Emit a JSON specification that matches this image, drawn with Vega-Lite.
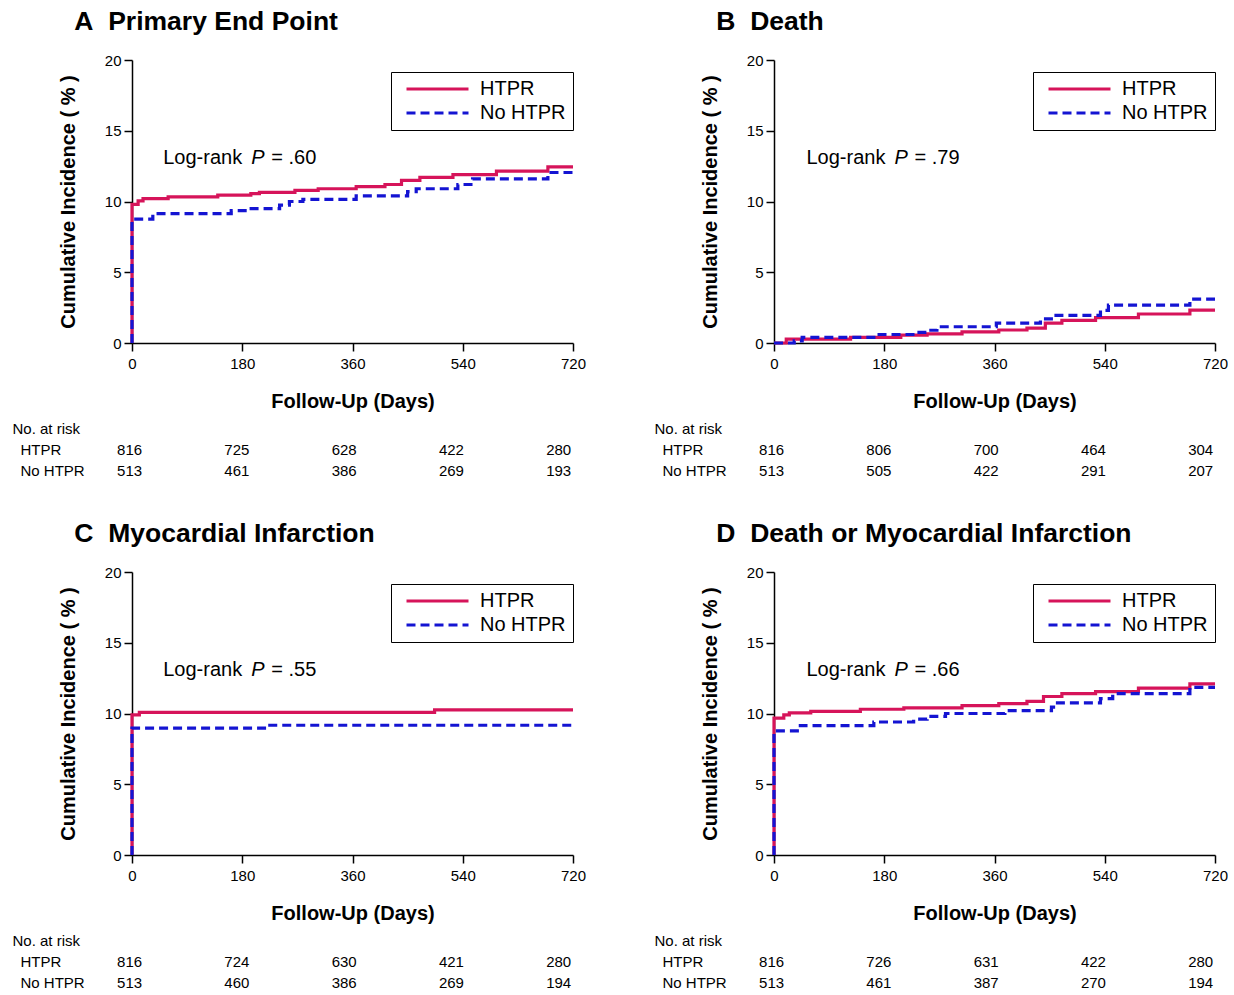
{
  "$schema": "https://vega.github.io/schema/vega-lite/v6.json",
  "padding": {"left": 12, "top": 8, "right": 0, "bottom": 0},
  "config": {
    "font": "Liberation Sans",
    "view": {"stroke": null},
    "axis": {"grid": false, "domainColor": "#000", "tickColor": "#000", "labelColor": "#000", "titleColor": "#000", "domainWidth": 1.5, "tickWidth": 1.5, "labelFontSize": 15, "titleFontSize": 20, "titleFontWeight": "bold", "tickSize": 8, "labelPadding": 3, "labelFlush": false},
    "axisX": {"labelPadding": 5},
    "legend": {"orient": "none", "legendX": 259, "legendY": 12, "strokeColor": "#000", "padding": 7, "labelFontSize": 20, "labelColor": "#000", "symbolType": "stroke", "symbolSize": 3844, "symbolStrokeWidth": 3, "labelOffset": 10, "rowPadding": 4, "symbolOffset": 7, "labelLimit": 200, "clipHeight": 20},
    "title": {"anchor": "start", "fontSize": 26.5, "fontWeight": "bold", "color": "#000", "dx": 16, "offset": 18},
    "text": {"color": "#000"}
  },
  "datasets": {
    "km": [
      {"panel": "A", "group": "HTPR", "day": 0, "pct": 0},
      {"panel": "A", "group": "HTPR", "day": 0, "pct": 9.8},
      {"panel": "A", "group": "HTPR", "day": 10, "pct": 10.05},
      {"panel": "A", "group": "HTPR", "day": 18, "pct": 10.2},
      {"panel": "A", "group": "HTPR", "day": 59, "pct": 10.33},
      {"panel": "A", "group": "HTPR", "day": 140, "pct": 10.45},
      {"panel": "A", "group": "HTPR", "day": 194, "pct": 10.55},
      {"panel": "A", "group": "HTPR", "day": 208, "pct": 10.65},
      {"panel": "A", "group": "HTPR", "day": 266, "pct": 10.78},
      {"panel": "A", "group": "HTPR", "day": 304, "pct": 10.9},
      {"panel": "A", "group": "HTPR", "day": 366, "pct": 11.05},
      {"panel": "A", "group": "HTPR", "day": 413, "pct": 11.2},
      {"panel": "A", "group": "HTPR", "day": 440, "pct": 11.5},
      {"panel": "A", "group": "HTPR", "day": 470, "pct": 11.7},
      {"panel": "A", "group": "HTPR", "day": 524, "pct": 11.9},
      {"panel": "A", "group": "HTPR", "day": 595, "pct": 12.15},
      {"panel": "A", "group": "HTPR", "day": 679, "pct": 12.45},
      {"panel": "A", "group": "HTPR", "day": 720, "pct": 12.45},
      {"panel": "A", "group": "No HTPR", "day": 0, "pct": 0},
      {"panel": "A", "group": "No HTPR", "day": 0, "pct": 8.75},
      {"panel": "A", "group": "No HTPR", "day": 34, "pct": 9.15},
      {"panel": "A", "group": "No HTPR", "day": 162, "pct": 9.35},
      {"panel": "A", "group": "No HTPR", "day": 190, "pct": 9.5},
      {"panel": "A", "group": "No HTPR", "day": 241, "pct": 9.75},
      {"panel": "A", "group": "No HTPR", "day": 257, "pct": 10.0},
      {"panel": "A", "group": "No HTPR", "day": 279, "pct": 10.15},
      {"panel": "A", "group": "No HTPR", "day": 366, "pct": 10.4},
      {"panel": "A", "group": "No HTPR", "day": 450, "pct": 10.7},
      {"panel": "A", "group": "No HTPR", "day": 464, "pct": 10.9},
      {"panel": "A", "group": "No HTPR", "day": 532, "pct": 11.2},
      {"panel": "A", "group": "No HTPR", "day": 556, "pct": 11.6},
      {"panel": "A", "group": "No HTPR", "day": 679, "pct": 12.05},
      {"panel": "A", "group": "No HTPR", "day": 720, "pct": 12.05},
      {"panel": "B", "group": "HTPR", "day": 0, "pct": 0},
      {"panel": "B", "group": "HTPR", "day": 20, "pct": 0.28},
      {"panel": "B", "group": "HTPR", "day": 125, "pct": 0.4},
      {"panel": "B", "group": "HTPR", "day": 207, "pct": 0.55},
      {"panel": "B", "group": "HTPR", "day": 250, "pct": 0.65},
      {"panel": "B", "group": "HTPR", "day": 307, "pct": 0.78},
      {"panel": "B", "group": "HTPR", "day": 367, "pct": 0.92},
      {"panel": "B", "group": "HTPR", "day": 413, "pct": 1.05},
      {"panel": "B", "group": "HTPR", "day": 443, "pct": 1.4},
      {"panel": "B", "group": "HTPR", "day": 470, "pct": 1.6},
      {"panel": "B", "group": "HTPR", "day": 525, "pct": 1.8},
      {"panel": "B", "group": "HTPR", "day": 595, "pct": 2.05},
      {"panel": "B", "group": "HTPR", "day": 679, "pct": 2.33},
      {"panel": "B", "group": "HTPR", "day": 720, "pct": 2.33},
      {"panel": "B", "group": "No HTPR", "day": 0, "pct": 0},
      {"panel": "B", "group": "No HTPR", "day": 33, "pct": 0.15},
      {"panel": "B", "group": "No HTPR", "day": 46, "pct": 0.4},
      {"panel": "B", "group": "No HTPR", "day": 163, "pct": 0.6},
      {"panel": "B", "group": "No HTPR", "day": 231, "pct": 0.75},
      {"panel": "B", "group": "No HTPR", "day": 250, "pct": 0.9},
      {"panel": "B", "group": "No HTPR", "day": 266, "pct": 1.15},
      {"panel": "B", "group": "No HTPR", "day": 363, "pct": 1.4},
      {"panel": "B", "group": "No HTPR", "day": 435, "pct": 1.7},
      {"panel": "B", "group": "No HTPR", "day": 457, "pct": 1.95},
      {"panel": "B", "group": "No HTPR", "day": 533, "pct": 2.3},
      {"panel": "B", "group": "No HTPR", "day": 546, "pct": 2.68},
      {"panel": "B", "group": "No HTPR", "day": 679, "pct": 3.1},
      {"panel": "B", "group": "No HTPR", "day": 720, "pct": 3.1},
      {"panel": "C", "group": "HTPR", "day": 0, "pct": 0},
      {"panel": "C", "group": "HTPR", "day": 0, "pct": 9.9},
      {"panel": "C", "group": "HTPR", "day": 12, "pct": 10.08},
      {"panel": "C", "group": "HTPR", "day": 494, "pct": 10.25},
      {"panel": "C", "group": "HTPR", "day": 720, "pct": 10.25},
      {"panel": "C", "group": "No HTPR", "day": 0, "pct": 0},
      {"panel": "C", "group": "No HTPR", "day": 0, "pct": 8.97},
      {"panel": "C", "group": "No HTPR", "day": 225, "pct": 9.17},
      {"panel": "C", "group": "No HTPR", "day": 720, "pct": 9.17},
      {"panel": "D", "group": "HTPR", "day": 0, "pct": 0},
      {"panel": "D", "group": "HTPR", "day": 0, "pct": 9.67},
      {"panel": "D", "group": "HTPR", "day": 16, "pct": 9.9},
      {"panel": "D", "group": "HTPR", "day": 25, "pct": 10.05},
      {"panel": "D", "group": "HTPR", "day": 60, "pct": 10.15},
      {"panel": "D", "group": "HTPR", "day": 141, "pct": 10.3},
      {"panel": "D", "group": "HTPR", "day": 212, "pct": 10.4},
      {"panel": "D", "group": "HTPR", "day": 307, "pct": 10.55},
      {"panel": "D", "group": "HTPR", "day": 367, "pct": 10.7},
      {"panel": "D", "group": "HTPR", "day": 413, "pct": 10.85},
      {"panel": "D", "group": "HTPR", "day": 440, "pct": 11.2},
      {"panel": "D", "group": "HTPR", "day": 470, "pct": 11.4},
      {"panel": "D", "group": "HTPR", "day": 525, "pct": 11.55},
      {"panel": "D", "group": "HTPR", "day": 595, "pct": 11.8},
      {"panel": "D", "group": "HTPR", "day": 679, "pct": 12.1},
      {"panel": "D", "group": "HTPR", "day": 720, "pct": 12.1},
      {"panel": "D", "group": "No HTPR", "day": 0, "pct": 0},
      {"panel": "D", "group": "No HTPR", "day": 0, "pct": 8.77},
      {"panel": "D", "group": "No HTPR", "day": 43, "pct": 9.15},
      {"panel": "D", "group": "No HTPR", "day": 163, "pct": 9.4},
      {"panel": "D", "group": "No HTPR", "day": 228, "pct": 9.6},
      {"panel": "D", "group": "No HTPR", "day": 250, "pct": 9.8},
      {"panel": "D", "group": "No HTPR", "day": 280, "pct": 10.0},
      {"panel": "D", "group": "No HTPR", "day": 377, "pct": 10.2},
      {"panel": "D", "group": "No HTPR", "day": 453, "pct": 10.45},
      {"panel": "D", "group": "No HTPR", "day": 460, "pct": 10.75},
      {"panel": "D", "group": "No HTPR", "day": 533, "pct": 11.05},
      {"panel": "D", "group": "No HTPR", "day": 553, "pct": 11.4},
      {"panel": "D", "group": "No HTPR", "day": 679, "pct": 11.85},
      {"panel": "D", "group": "No HTPR", "day": 720, "pct": 11.85}
    ],
    "risk": [
      {"panel": "A", "row": "HTPR", "day": 0, "n": 816},
      {"panel": "A", "row": "HTPR", "day": 180, "n": 725},
      {"panel": "A", "row": "HTPR", "day": 360, "n": 628},
      {"panel": "A", "row": "HTPR", "day": 540, "n": 422},
      {"panel": "A", "row": "HTPR", "day": 720, "n": 280},
      {"panel": "A", "row": "No HTPR", "day": 0, "n": 513},
      {"panel": "A", "row": "No HTPR", "day": 180, "n": 461},
      {"panel": "A", "row": "No HTPR", "day": 360, "n": 386},
      {"panel": "A", "row": "No HTPR", "day": 540, "n": 269},
      {"panel": "A", "row": "No HTPR", "day": 720, "n": 193},
      {"panel": "B", "row": "HTPR", "day": 0, "n": 816},
      {"panel": "B", "row": "HTPR", "day": 180, "n": 806},
      {"panel": "B", "row": "HTPR", "day": 360, "n": 700},
      {"panel": "B", "row": "HTPR", "day": 540, "n": 464},
      {"panel": "B", "row": "HTPR", "day": 720, "n": 304},
      {"panel": "B", "row": "No HTPR", "day": 0, "n": 513},
      {"panel": "B", "row": "No HTPR", "day": 180, "n": 505},
      {"panel": "B", "row": "No HTPR", "day": 360, "n": 422},
      {"panel": "B", "row": "No HTPR", "day": 540, "n": 291},
      {"panel": "B", "row": "No HTPR", "day": 720, "n": 207},
      {"panel": "C", "row": "HTPR", "day": 0, "n": 816},
      {"panel": "C", "row": "HTPR", "day": 180, "n": 724},
      {"panel": "C", "row": "HTPR", "day": 360, "n": 630},
      {"panel": "C", "row": "HTPR", "day": 540, "n": 421},
      {"panel": "C", "row": "HTPR", "day": 720, "n": 280},
      {"panel": "C", "row": "No HTPR", "day": 0, "n": 513},
      {"panel": "C", "row": "No HTPR", "day": 180, "n": 460},
      {"panel": "C", "row": "No HTPR", "day": 360, "n": 386},
      {"panel": "C", "row": "No HTPR", "day": 540, "n": 269},
      {"panel": "C", "row": "No HTPR", "day": 720, "n": 194},
      {"panel": "D", "row": "HTPR", "day": 0, "n": 816},
      {"panel": "D", "row": "HTPR", "day": 180, "n": 726},
      {"panel": "D", "row": "HTPR", "day": 360, "n": 631},
      {"panel": "D", "row": "HTPR", "day": 540, "n": 422},
      {"panel": "D", "row": "HTPR", "day": 720, "n": 280},
      {"panel": "D", "row": "No HTPR", "day": 0, "n": 513},
      {"panel": "D", "row": "No HTPR", "day": 180, "n": 461},
      {"panel": "D", "row": "No HTPR", "day": 360, "n": 387},
      {"panel": "D", "row": "No HTPR", "day": 540, "n": 270},
      {"panel": "D", "row": "No HTPR", "day": 720, "n": 194}
    ],
    "notes": [
      {"panel": "A", "p": "= .60"},
      {"panel": "B", "p": "= .79"},
      {"panel": "C", "p": "= .55"},
      {"panel": "D", "p": "= .66"}
    ]
  },
  "resolve": {"scale": {"color": "independent", "strokeDash": "independent"}, "legend": {"color": "independent", "strokeDash": "independent"}},
  "spacing": 39,
  "vconcat": [
    {
      "spacing": 68,
      "resolve": {"scale": {"color": "independent", "strokeDash": "independent"}, "legend": {"color": "independent", "strokeDash": "independent"}},
      "hconcat": [
        {
          "spacing": 7,
          "resolve": {"scale": {"color": "independent", "strokeDash": "independent"}, "legend": {"color": "independent", "strokeDash": "independent"}},
          "vconcat": [
            {
              "width": 441, "height": 283,
              "title": {"text": "A\u00a0\u00a0Primary End Point"},
              "layer": [
                {
                  "data": {"name": "km"},
                  "transform": [{"filter": "datum.panel == 'A'"}],
                  "mark": {"type": "line", "interpolate": "step-after", "strokeWidth": 3.2},
                  "encoding": {
                    "x": {"field": "day", "type": "quantitative", "scale": {"domain": [0, 720], "nice": false}, "axis": {"values": [0, 180, 360, 540, 720], "title": "Follow-Up (Days)", "titlePadding": 20}},
                    "y": {"field": "pct", "type": "quantitative", "scale": {"domain": [0, 20], "nice": false}, "axis": {"values": [0, 5, 10, 15, 20], "title": "Cumulative Incidence ( % )", "titlePadding": 26}},
                    "color": {"field": "group", "type": "nominal", "scale": {"domain": ["HTPR", "No HTPR"], "range": ["#d6145a", "#1414d2"]}, "legend": {"title": null}},
                    "strokeDash": {"field": "group", "type": "nominal", "scale": {"domain": ["HTPR", "No HTPR"], "range": [[1, 0], [9, 5]]}, "legend": {"title": null}}
                  }
                },
                {
                  "data": {"name": "notes"},
                  "transform": [{"filter": "datum.panel == 'A'"}],
                  "mark": {"type": "text", "align": "left", "baseline": "middle", "fontSize": 20},
                  "encoding": {"x": {"datum": 51}, "y": {"datum": 13.05}, "text": {"value": "Log-rank"}}
                },
                {
                  "data": {"name": "notes"},
                  "transform": [{"filter": "datum.panel == 'A'"}],
                  "mark": {"type": "text", "align": "left", "baseline": "middle", "fontSize": 20, "fontStyle": "italic", "dx": 88},
                  "encoding": {"x": {"datum": 51}, "y": {"datum": 13.05}, "text": {"value": "P"}}
                },
                {
                  "data": {"name": "notes"},
                  "transform": [{"filter": "datum.panel == 'A'"}],
                  "mark": {"type": "text", "align": "left", "baseline": "middle", "fontSize": 20, "dx": 108},
                  "encoding": {"x": {"datum": 51}, "y": {"datum": 13.05}, "text": {"field": "p"}}
                }
              ]
            },
            {
              "width": 441, "height": 63,
              "data": {"name": "risk"},
              "transform": [{"filter": "datum.panel == 'A'"}],
              "mark": {"type": "text", "fontSize": 15, "baseline": "middle"},
              "encoding": {
                "x": {"field": "day", "type": "quantitative", "scale": {"domain": [4, 744], "nice": false}, "axis": null},
                "y": {"field": "row", "type": "nominal", "scale": {"domain": ["No. at risk", "HTPR", "No HTPR"], "padding": 0.5}, "axis": {"title": null, "domain": false, "ticks": false, "labelAlign": "left", "labelFontSize": 15, "labelPadding": {"condition": {"test": "datum.value == 'No. at risk'", "value": 120}, "value": 112}}},
                "text": {"field": "n", "type": "quantitative"}
              }
            }
          ]
        },
        {
          "spacing": 7,
          "resolve": {"scale": {"color": "independent", "strokeDash": "independent"}, "legend": {"color": "independent", "strokeDash": "independent"}},
          "vconcat": [
            {
              "width": 441, "height": 283,
              "title": {"text": "B\u00a0\u00a0Death"},
              "layer": [
                {
                  "data": {"name": "km"},
                  "transform": [{"filter": "datum.panel == 'B'"}],
                  "mark": {"type": "line", "interpolate": "step-after", "strokeWidth": 3.2},
                  "encoding": {
                    "x": {"field": "day", "type": "quantitative", "scale": {"domain": [0, 720], "nice": false}, "axis": {"values": [0, 180, 360, 540, 720], "title": "Follow-Up (Days)", "titlePadding": 20}},
                    "y": {"field": "pct", "type": "quantitative", "scale": {"domain": [0, 20], "nice": false}, "axis": {"values": [0, 5, 10, 15, 20], "title": "Cumulative Incidence ( % )", "titlePadding": 26}},
                    "color": {"field": "group", "type": "nominal", "scale": {"domain": ["HTPR", "No HTPR"], "range": ["#d6145a", "#1414d2"]}, "legend": {"title": null}},
                    "strokeDash": {"field": "group", "type": "nominal", "scale": {"domain": ["HTPR", "No HTPR"], "range": [[1, 0], [9, 5]]}, "legend": {"title": null}}
                  }
                },
                {
                  "data": {"name": "notes"},
                  "transform": [{"filter": "datum.panel == 'B'"}],
                  "mark": {"type": "text", "align": "left", "baseline": "middle", "fontSize": 20},
                  "encoding": {"x": {"datum": 53}, "y": {"datum": 13.05}, "text": {"value": "Log-rank"}}
                },
                {
                  "data": {"name": "notes"},
                  "transform": [{"filter": "datum.panel == 'B'"}],
                  "mark": {"type": "text", "align": "left", "baseline": "middle", "fontSize": 20, "fontStyle": "italic", "dx": 88},
                  "encoding": {"x": {"datum": 53}, "y": {"datum": 13.05}, "text": {"value": "P"}}
                },
                {
                  "data": {"name": "notes"},
                  "transform": [{"filter": "datum.panel == 'B'"}],
                  "mark": {"type": "text", "align": "left", "baseline": "middle", "fontSize": 20, "dx": 108},
                  "encoding": {"x": {"datum": 53}, "y": {"datum": 13.05}, "text": {"field": "p"}}
                }
              ]
            },
            {
              "width": 441, "height": 63,
              "data": {"name": "risk"},
              "transform": [{"filter": "datum.panel == 'B'"}],
              "mark": {"type": "text", "fontSize": 15, "baseline": "middle"},
              "encoding": {
                "x": {"field": "day", "type": "quantitative", "scale": {"domain": [4, 744], "nice": false}, "axis": null},
                "y": {"field": "row", "type": "nominal", "scale": {"domain": ["No. at risk", "HTPR", "No HTPR"], "padding": 0.5}, "axis": {"title": null, "domain": false, "ticks": false, "labelAlign": "left", "labelFontSize": 15, "labelPadding": {"condition": {"test": "datum.value == 'No. at risk'", "value": 120}, "value": 112}}},
                "text": {"field": "n", "type": "quantitative"}
              }
            }
          ]
        }
      ]
    },
    {
      "spacing": 68,
      "resolve": {"scale": {"color": "independent", "strokeDash": "independent"}, "legend": {"color": "independent", "strokeDash": "independent"}},
      "hconcat": [
        {
          "spacing": 7,
          "resolve": {"scale": {"color": "independent", "strokeDash": "independent"}, "legend": {"color": "independent", "strokeDash": "independent"}},
          "vconcat": [
            {
              "width": 441, "height": 283,
              "title": {"text": "C\u00a0\u00a0Myocardial Infarction"},
              "layer": [
                {
                  "data": {"name": "km"},
                  "transform": [{"filter": "datum.panel == 'C'"}],
                  "mark": {"type": "line", "interpolate": "step-after", "strokeWidth": 3.2},
                  "encoding": {
                    "x": {"field": "day", "type": "quantitative", "scale": {"domain": [0, 720], "nice": false}, "axis": {"values": [0, 180, 360, 540, 720], "title": "Follow-Up (Days)", "titlePadding": 20}},
                    "y": {"field": "pct", "type": "quantitative", "scale": {"domain": [0, 20], "nice": false}, "axis": {"values": [0, 5, 10, 15, 20], "title": "Cumulative Incidence ( % )", "titlePadding": 26}},
                    "color": {"field": "group", "type": "nominal", "scale": {"domain": ["HTPR", "No HTPR"], "range": ["#d6145a", "#1414d2"]}, "legend": {"title": null}},
                    "strokeDash": {"field": "group", "type": "nominal", "scale": {"domain": ["HTPR", "No HTPR"], "range": [[1, 0], [9, 5]]}, "legend": {"title": null}}
                  }
                },
                {
                  "data": {"name": "notes"},
                  "transform": [{"filter": "datum.panel == 'C'"}],
                  "mark": {"type": "text", "align": "left", "baseline": "middle", "fontSize": 20},
                  "encoding": {"x": {"datum": 51}, "y": {"datum": 13.05}, "text": {"value": "Log-rank"}}
                },
                {
                  "data": {"name": "notes"},
                  "transform": [{"filter": "datum.panel == 'C'"}],
                  "mark": {"type": "text", "align": "left", "baseline": "middle", "fontSize": 20, "fontStyle": "italic", "dx": 88},
                  "encoding": {"x": {"datum": 51}, "y": {"datum": 13.05}, "text": {"value": "P"}}
                },
                {
                  "data": {"name": "notes"},
                  "transform": [{"filter": "datum.panel == 'C'"}],
                  "mark": {"type": "text", "align": "left", "baseline": "middle", "fontSize": 20, "dx": 108},
                  "encoding": {"x": {"datum": 51}, "y": {"datum": 13.05}, "text": {"field": "p"}}
                }
              ]
            },
            {
              "width": 441, "height": 63,
              "data": {"name": "risk"},
              "transform": [{"filter": "datum.panel == 'C'"}],
              "mark": {"type": "text", "fontSize": 15, "baseline": "middle"},
              "encoding": {
                "x": {"field": "day", "type": "quantitative", "scale": {"domain": [4, 744], "nice": false}, "axis": null},
                "y": {"field": "row", "type": "nominal", "scale": {"domain": ["No. at risk", "HTPR", "No HTPR"], "padding": 0.5}, "axis": {"title": null, "domain": false, "ticks": false, "labelAlign": "left", "labelFontSize": 15, "labelPadding": {"condition": {"test": "datum.value == 'No. at risk'", "value": 120}, "value": 112}}},
                "text": {"field": "n", "type": "quantitative"}
              }
            }
          ]
        },
        {
          "spacing": 7,
          "resolve": {"scale": {"color": "independent", "strokeDash": "independent"}, "legend": {"color": "independent", "strokeDash": "independent"}},
          "vconcat": [
            {
              "width": 441, "height": 283,
              "title": {"text": "D\u00a0\u00a0Death or Myocardial Infarction"},
              "layer": [
                {
                  "data": {"name": "km"},
                  "transform": [{"filter": "datum.panel == 'D'"}],
                  "mark": {"type": "line", "interpolate": "step-after", "strokeWidth": 3.2},
                  "encoding": {
                    "x": {"field": "day", "type": "quantitative", "scale": {"domain": [0, 720], "nice": false}, "axis": {"values": [0, 180, 360, 540, 720], "title": "Follow-Up (Days)", "titlePadding": 20}},
                    "y": {"field": "pct", "type": "quantitative", "scale": {"domain": [0, 20], "nice": false}, "axis": {"values": [0, 5, 10, 15, 20], "title": "Cumulative Incidence ( % )", "titlePadding": 26}},
                    "color": {"field": "group", "type": "nominal", "scale": {"domain": ["HTPR", "No HTPR"], "range": ["#d6145a", "#1414d2"]}, "legend": {"title": null}},
                    "strokeDash": {"field": "group", "type": "nominal", "scale": {"domain": ["HTPR", "No HTPR"], "range": [[1, 0], [9, 5]]}, "legend": {"title": null}}
                  }
                },
                {
                  "data": {"name": "notes"},
                  "transform": [{"filter": "datum.panel == 'D'"}],
                  "mark": {"type": "text", "align": "left", "baseline": "middle", "fontSize": 20},
                  "encoding": {"x": {"datum": 53}, "y": {"datum": 13.05}, "text": {"value": "Log-rank"}}
                },
                {
                  "data": {"name": "notes"},
                  "transform": [{"filter": "datum.panel == 'D'"}],
                  "mark": {"type": "text", "align": "left", "baseline": "middle", "fontSize": 20, "fontStyle": "italic", "dx": 88},
                  "encoding": {"x": {"datum": 53}, "y": {"datum": 13.05}, "text": {"value": "P"}}
                },
                {
                  "data": {"name": "notes"},
                  "transform": [{"filter": "datum.panel == 'D'"}],
                  "mark": {"type": "text", "align": "left", "baseline": "middle", "fontSize": 20, "dx": 108},
                  "encoding": {"x": {"datum": 53}, "y": {"datum": 13.05}, "text": {"field": "p"}}
                }
              ]
            },
            {
              "width": 441, "height": 63,
              "data": {"name": "risk"},
              "transform": [{"filter": "datum.panel == 'D'"}],
              "mark": {"type": "text", "fontSize": 15, "baseline": "middle"},
              "encoding": {
                "x": {"field": "day", "type": "quantitative", "scale": {"domain": [4, 744], "nice": false}, "axis": null},
                "y": {"field": "row", "type": "nominal", "scale": {"domain": ["No. at risk", "HTPR", "No HTPR"], "padding": 0.5}, "axis": {"title": null, "domain": false, "ticks": false, "labelAlign": "left", "labelFontSize": 15, "labelPadding": {"condition": {"test": "datum.value == 'No. at risk'", "value": 120}, "value": 112}}},
                "text": {"field": "n", "type": "quantitative"}
              }
            }
          ]
        }
      ]
    }
  ]
}
